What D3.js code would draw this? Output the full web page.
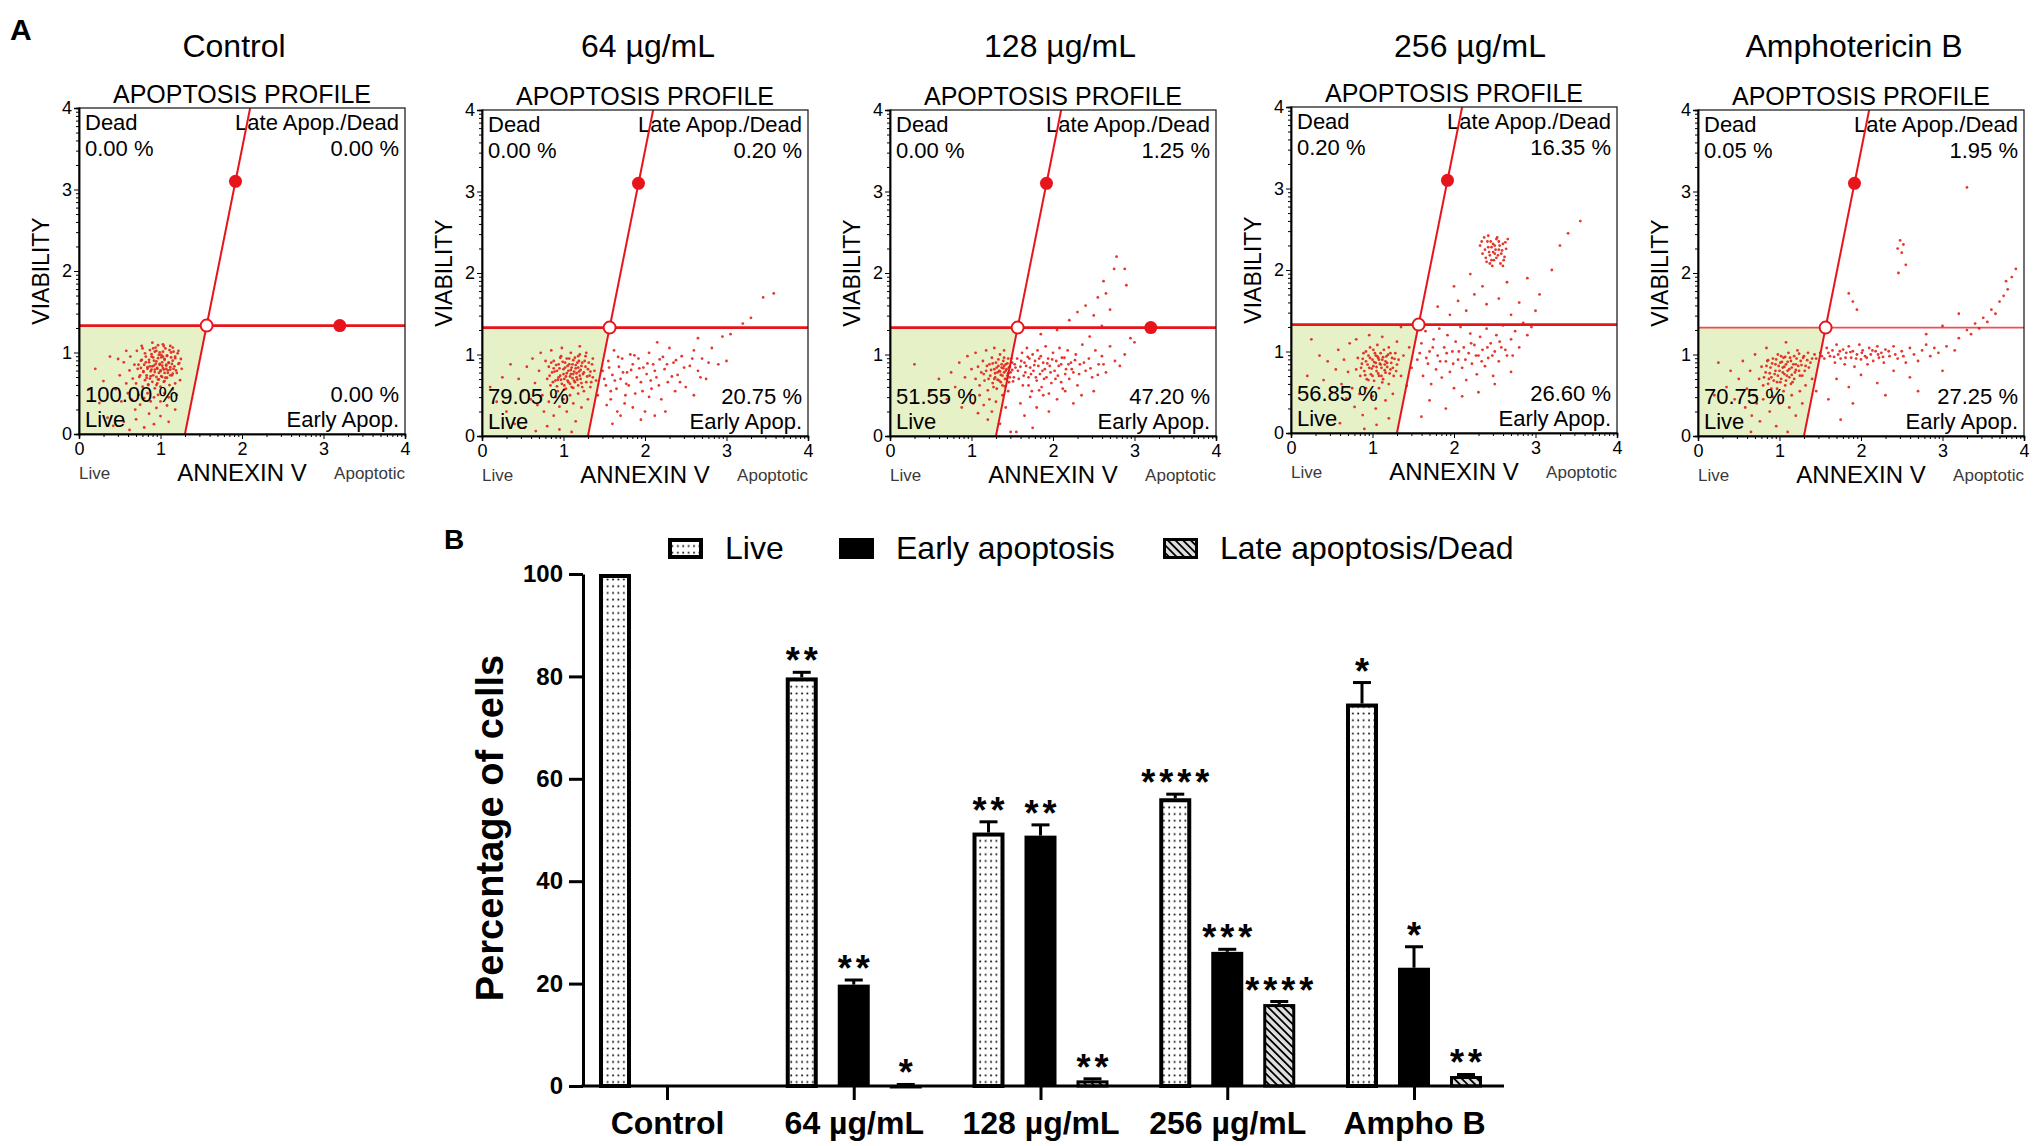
<!DOCTYPE html>
<html><head><meta charset="utf-8">
<script src="https://cdn.jsdelivr.net/npm/d3@7"></script>
<style>body{margin:0;background:#fff}svg{display:block}text{font-family:"Liberation Sans",Arial,sans-serif}</style>
</head><body><svg id="chart" width="2033" height="1146"></svg>
<script>
// ---------------- DATA ----------------
const panelTitles = ["Control", "64 µg/mL", "128 µg/mL", "256 µg/mL", "Amphotericin B"];
const deadPct  = ["0.00 %", "0.00 %", "0.00 %", "0.20 %", "0.05 %"];
const latePct  = ["0.00 %", "0.20 %", "1.25 %", "16.35 %", "1.95 %"];
const livePct  = ["100.00 %", "79.05 %", "51.55 %", "56.85 %", "70.75 %"];
const earlyPct = ["0.00 %", "20.75 %", "47.20 %", "26.60 %", "27.25 %"];
const showGateDot = [true, false, true, false, false];
const scatterTicks = [0, 1, 2, 3, 4];
const gateY = 1.33;
const gateLine = [[1.30, 0], [2.10, 4]];
const gateDotSlant = [1.92, 3.10];
const gateDotHoriz = [3.20, 1.33];

const pointsControl = [[0.70,0.62],[0.72,0.80],[0.74,0.70],[0.76,0.90],[0.78,0.58],[0.79,0.76],[0.80,0.85],[0.81,0.66],[0.82,0.95],[0.83,0.72],[0.84,0.80],[0.85,0.60],[0.86,0.88],[0.87,0.68],[0.88,0.77],[0.89,0.98],[0.90,0.83],[0.90,0.64],[0.91,0.72],[0.92,0.90],[0.93,0.56],[0.93,0.79],[0.94,0.86],[0.95,0.70],[0.95,1.02],[0.96,0.62],[0.96,0.80],[0.97,0.93],[0.98,0.75],[0.98,0.67],[0.99,0.85],[1.00,0.78],[1.00,0.58],[1.01,0.97],[1.02,0.70],[1.02,0.88],[1.03,0.81],[1.04,0.64],[1.05,0.92],[1.05,0.75],[1.06,1.05],[1.07,0.84],[1.08,0.69],[1.08,0.96],[1.09,0.78],[1.10,0.88],[1.11,0.60],[1.12,0.82],[1.13,1.00],[1.14,0.72],[1.15,0.90],[1.16,0.80],[1.18,0.95],[1.20,0.75],[1.22,0.86],
[0.45,0.55],[0.50,0.72],[0.52,0.40],[0.55,0.88],[0.58,0.62],[0.60,0.50],[0.62,0.78],[0.63,0.95],[0.65,0.42],[0.66,0.68],[0.68,0.85],[0.69,0.30],[0.71,1.02],[0.73,0.48],[0.75,0.36],[0.77,1.08],[0.80,0.44],[0.84,0.50],[0.86,0.25],[0.88,0.40],[0.90,1.12],[0.92,0.45],[0.95,0.32],[0.97,0.48],[1.00,0.40],[1.03,1.10],[1.05,0.50],[1.08,0.35],[1.10,0.45],[1.12,1.08],[1.15,0.55],[1.18,0.62],[1.20,0.48],[1.22,1.02],[1.24,0.66],[1.26,0.80],[1.25,0.92],
[0.12,0.55],[0.20,0.80],[0.25,0.38],[0.30,0.65],[0.35,0.20],[0.38,0.95],[0.42,0.10],[0.55,0.15],[0.62,0.05],[0.70,0.18],[0.80,0.08],[0.92,0.12],[1.00,0.22],[1.10,0.15],[1.18,0.30],[0.58,1.02],[0.48,0.92],
[0.73,0.85],[0.75,0.72],[0.77,0.91],[0.79,0.77],[0.81,0.99],[0.83,0.69],[0.84,0.82],[0.86,0.91],[0.87,1.03],[0.88,0.71],[0.89,0.79],[0.91,0.94],[0.92,0.84],[0.93,0.76],[0.94,1.06],[0.95,0.89],[0.96,0.81],[0.97,0.67],[0.98,0.97],[0.99,0.86],[1.00,0.77],[1.01,0.94],[1.02,0.84],[1.03,1.01],[1.04,0.79],[1.05,0.91],[1.06,0.69],[1.07,0.85],[1.08,0.96],[1.09,0.75],[1.10,0.87],[1.11,1.03],[1.12,0.79],[1.13,0.94],[1.14,0.86],[1.15,0.74],[1.16,1.01],[1.17,0.83],[1.18,0.93],[1.19,0.78],[1.21,0.99],[1.23,0.87],[0.91,1.05],[0.97,1.09],[1.04,1.08],[0.85,0.61],[0.95,0.60],[1.05,0.65],[0.78,1.05],[1.01,0.71],[0.89,0.95],[0.93,1.01],[1.07,0.80],[0.99,1.00],[0.87,0.83],[1.12,0.72],[0.82,0.88],[1.15,1.06],[0.76,0.81],[1.03,0.95]];

const points64 = [[0.80,0.70],[0.82,0.85],[0.84,0.62],[0.86,0.78],[0.88,0.92],[0.90,0.68],[0.92,0.80],[0.93,0.55],[0.94,0.88],[0.96,0.74],[0.97,0.98],[0.98,0.64],[1.00,0.82],[1.01,0.70],[1.02,0.90],[1.03,0.58],[1.04,0.77],[1.05,0.86],[1.06,0.66],[1.07,0.95],[1.08,0.73],[1.09,0.81],[1.10,0.60],[1.11,0.88],[1.12,0.76],[1.13,0.68],[1.14,0.96],[1.15,0.83],[1.16,0.72],[1.17,0.90],[1.18,0.62],[1.19,0.79],[1.20,1.00],[1.21,0.70],[1.22,0.86],[1.24,0.76],[1.26,0.92],[1.28,0.66],[1.30,0.82],[1.32,0.74],[1.35,0.88],[1.38,0.80],
[0.45,0.70],[0.50,0.55],[0.55,0.85],[0.60,0.45],[0.62,0.95],[0.65,0.65],[0.68,0.38],[0.70,0.80],[0.72,1.02],[0.74,0.50],[0.76,0.30],[0.78,0.92],[0.82,0.42],[0.85,1.05],[0.88,0.25],[0.90,0.48],[0.95,0.36],[0.98,1.08],[1.00,0.45],[1.04,0.30],[1.08,0.50],[1.12,0.40],[1.15,0.18],[1.18,0.52],[1.20,1.10],[1.22,0.35],[1.25,0.55],[1.28,1.02],[1.30,0.45],[1.33,0.60],[1.36,0.95],[1.40,0.68],[1.42,0.50],
[0.10,0.60],[0.18,0.42],[0.25,0.72],[0.30,0.30],[0.35,0.88],[0.40,0.15],[0.52,0.10],[0.66,0.06],[0.80,0.12],[0.95,0.08],[1.10,0.05],
[1.48,0.80],[1.52,0.62],[1.55,0.92],[1.58,0.45],[1.60,0.75],[1.62,1.05],[1.65,0.58],[1.68,0.85],[1.70,0.70],[1.72,0.95],[1.75,0.40],[1.78,0.78],[1.80,0.62],[1.82,1.00],[1.85,0.88],[1.88,0.52],[1.90,0.72],[1.92,0.95],[1.95,0.66],[1.98,0.84],[2.00,0.30],[2.02,0.76],[2.05,1.02],[2.08,0.58],[2.10,0.88],[2.14,0.72],[2.18,0.94],[2.20,0.45],[2.24,0.82],[2.28,0.66],[2.30,1.08],[2.35,0.90],[2.40,0.75],[2.45,0.98],[2.50,0.60],[2.55,0.86],[2.60,1.05],[2.65,0.80],[2.70,0.95],[2.75,0.70],[2.82,1.08],[2.90,0.88],[3.00,0.92],[1.70,0.25],[1.95,0.20],[2.25,0.30],[2.60,0.50],[1.60,0.15],[1.85,0.35],[2.15,1.15],[2.65,1.20],[2.95,1.22],[3.05,1.25],
[3.30,1.45],[3.45,1.70],[3.58,1.75],[3.20,1.38],
[0.83,0.74],[0.85,0.90],[0.87,0.66],[0.89,0.79],[0.91,0.87],[0.92,0.61],[0.94,0.72],[0.95,0.83],[0.97,0.69],[0.99,0.91],[1.00,0.76],[1.01,0.62],[1.02,0.84],[1.03,0.73],[1.04,0.95],[1.05,0.68],[1.06,0.80],[1.07,0.88],[1.08,0.64],[1.09,0.76],[1.10,0.84],[1.11,0.71],[1.12,0.93],[1.13,0.79],[1.14,0.66],[1.15,0.87],[1.16,0.77],[1.17,0.69],[1.18,0.84],[1.19,0.92],[1.20,0.74],[1.21,0.81],[1.22,0.65],[1.23,0.90],[1.25,0.78],[1.27,0.85],[1.29,0.73],[1.31,0.90],[1.33,0.79],[1.36,0.72],[0.96,0.96],[1.09,1.02],[1.18,0.98],[0.93,0.69],[1.01,0.57],[1.12,0.59],[1.23,0.60],[0.88,0.83],[1.27,0.98],[1.34,0.66],
[1.50,0.70],[1.56,0.84],[1.63,0.68],[1.67,0.97],[1.73,0.78],[1.77,0.64],[1.83,0.81],[1.87,0.99],[1.93,0.83],[1.97,0.55],[2.03,0.89],[2.07,0.68],[2.12,0.80],[2.17,0.62],[2.22,0.97],[2.27,0.88],[2.33,0.73],[2.38,0.93],[2.43,0.66],[2.48,0.84],[2.58,0.95],[2.68,0.72],[2.78,0.90],[1.58,0.55],[1.76,0.50],[2.05,0.48],[2.37,0.55],[1.53,0.38],[1.66,0.30],[2.12,0.25]];

const points128 = [[1.05,0.70],[1.08,0.85],[1.10,0.62],[1.12,0.78],[1.14,0.92],[1.16,0.68],[1.18,0.80],[1.20,0.56],[1.22,0.88],[1.23,0.74],[1.25,0.96],[1.26,0.65],[1.28,0.82],[1.29,0.72],[1.30,0.90],[1.31,0.58],[1.32,0.78],[1.33,0.86],[1.34,0.68],[1.35,1.00],[1.36,0.75],[1.37,0.84],[1.38,0.62],[1.39,0.92],[1.40,0.78],[1.41,0.70],[1.42,0.88],[1.43,0.82],[1.44,0.74],[1.45,0.95],[1.46,0.66],[1.47,0.85],[1.48,0.78],[1.50,0.90],[1.52,0.72],[1.54,0.84],
[0.30,0.88],[0.50,0.55],[0.60,0.70],[0.70,0.45],[0.75,0.78],[0.80,0.60],[0.85,0.90],[0.88,0.35],[0.92,0.72],[0.95,0.98],[0.98,0.52],[1.00,0.82],[1.02,0.40],[1.05,1.02],[1.08,0.28],[1.10,0.50],[1.15,0.38],[1.18,1.05],[1.20,0.20],[1.22,0.45],[1.25,0.30],[1.28,1.08],[1.30,0.42],[1.35,0.15],[1.38,0.50],[1.40,1.05],[1.42,0.35],[1.45,0.55],[1.48,0.05],
[1.56,0.95],[1.58,0.70],[1.60,0.85],[1.62,1.02],[1.63,0.62],[1.65,0.90],[1.66,0.78],[1.68,1.08],[1.70,0.72],[1.71,0.95],[1.72,0.84],[1.74,0.55],[1.75,1.00],[1.76,0.80],[1.78,0.92],[1.80,0.68],[1.81,1.05],[1.82,0.86],[1.84,0.76],[1.85,0.98],[1.86,0.60],[1.88,0.90],[1.90,0.82],[1.91,1.10],[1.92,0.72],[1.94,0.95],[1.96,0.86],[1.98,0.65],[2.00,1.02],[2.02,0.80],[2.04,0.92],[2.06,0.74],[2.08,1.08],[2.10,0.88],[2.12,0.58],[2.14,0.96],[2.16,0.82],[2.18,1.05],[2.20,0.70],[2.22,0.90],[2.25,0.78],[2.28,1.00],[2.30,0.62],[2.33,0.88],[2.36,1.12],[2.40,0.80],[2.44,0.95],[2.48,0.72],[2.52,1.05],[2.56,0.88],[2.60,0.98],[2.65,0.78],[2.70,1.10],[2.76,0.92],[2.82,0.86],[2.88,1.00],
[1.60,0.40],[1.65,0.25],[1.72,0.48],[1.80,0.35],[1.88,0.50],[1.95,0.30],[2.05,0.45],[2.15,0.55],[2.25,0.40],[2.35,0.50],[2.50,0.55],[1.75,0.10],[1.55,0.05],
[1.85,1.25],[2.05,1.30],[2.20,1.42],[2.30,1.52],[2.40,1.60],[2.50,1.48],[2.55,1.70],[2.60,1.35],[2.62,1.90],[2.65,1.75],[2.70,1.55],[2.75,2.05],[2.78,2.20],[2.88,2.05],[2.90,1.85],[2.95,1.20],[3.00,1.15],[2.45,1.22],
[1.15,0.76],[1.19,0.86],[1.21,0.70],[1.24,0.81],[1.26,0.89],[1.27,0.60],[1.29,0.77],[1.31,0.84],[1.32,0.69],[1.33,0.94],[1.34,0.80],[1.36,0.66],[1.37,0.88],[1.38,0.74],[1.39,0.83],[1.40,0.96],[1.41,0.61],[1.42,0.80],[1.43,0.70],[1.44,0.89],[1.45,0.77],[1.46,0.84],[1.47,0.72],[1.49,0.95],[1.50,0.81],[1.51,0.67],[1.53,0.88],[1.35,0.79],[1.28,0.70],[1.40,0.86],
[1.57,0.80],[1.61,0.92],[1.64,0.74],[1.67,0.86],[1.69,0.97],[1.73,0.76],[1.77,0.87],[1.79,0.72],[1.83,0.95],[1.87,0.80],[1.89,0.70],[1.93,0.89],[1.97,0.78],[1.99,0.94],[2.03,0.70],[2.07,0.86],[2.11,0.96],[2.15,0.76],[2.19,0.88],[2.23,0.82],[2.27,0.93],[2.32,0.76],[2.38,0.90],[2.46,0.83],[2.55,0.75],[2.62,0.88],[1.70,0.62],[1.83,0.56],[1.95,0.52],[2.10,0.66]];

const points256 = [[0.80,0.78],[0.82,0.92],[0.85,0.70],[0.87,0.85],[0.89,0.98],[0.90,0.76],[0.92,0.88],[0.93,0.66],[0.95,0.95],[0.96,0.80],[0.97,1.05],[0.98,0.72],[1.00,0.90],[1.01,0.82],[1.02,0.64],[1.03,0.98],[1.04,0.86],[1.05,0.76],[1.06,1.08],[1.07,0.92],[1.08,0.70],[1.09,0.85],[1.10,0.98],[1.11,0.80],[1.12,0.90],[1.13,0.66],[1.14,1.02],[1.15,0.84],[1.16,0.74],[1.17,0.94],[1.18,0.86],[1.20,1.05],[1.22,0.78],[1.24,0.92],[1.26,0.70],[1.28,0.98],[1.30,0.84],[1.32,0.90],
[0.40,0.65],[0.45,0.88],[0.50,0.50],[0.55,0.78],[0.58,1.02],[0.62,0.60],[0.65,0.90],[0.68,0.42],[0.70,0.75],[0.72,1.10],[0.75,0.55],[0.78,0.32],[0.80,1.15],[0.84,0.48],[0.88,0.22],[0.92,0.55],[0.96,1.20],[1.00,0.45],[1.04,0.30],[1.08,0.55],[1.12,1.18],[1.16,0.40],[1.20,0.60],[1.25,0.48],[1.30,1.12],[1.35,0.70],[1.38,0.95],[1.42,0.58],[1.45,1.05],[1.48,0.80],[0.20,0.70],[0.30,0.40],[0.35,0.95],[0.60,0.12],[0.90,0.05],[1.05,0.10],[1.20,0.18],[0.25,1.15],[1.35,1.30],
[1.55,0.90],[1.60,1.10],[1.62,0.70],[1.65,1.25],[1.68,0.85],[1.70,1.00],[1.72,0.60],[1.75,1.15],[1.78,0.78],[1.80,0.95],[1.82,1.28],[1.85,0.68],[1.88,1.05],[1.90,0.88],[1.92,1.20],[1.95,0.75],[1.98,1.00],[2.00,0.55],[2.02,1.12],[2.05,0.90],[2.08,1.30],[2.10,0.80],[2.12,1.05],[2.15,0.65],[2.18,0.98],[2.20,1.22],[2.22,0.85],[2.25,1.08],[2.28,0.72],[2.30,0.95],[2.32,1.18],[2.35,1.02],[2.38,0.82],[2.40,1.28],[2.42,0.92],[2.45,1.10],[2.48,0.70],[2.50,1.00],[2.52,1.20],[2.55,0.88],[2.58,1.05],[2.60,1.32],[2.65,0.95],[2.70,1.15],[2.75,1.25],[2.80,1.05],[2.85,1.35],[2.90,1.20],[2.95,1.30],[1.70,0.40],[1.90,0.30],[2.10,0.45],[2.30,0.50],[1.60,0.20],[2.50,0.60],[2.70,0.75],
[1.80,1.55],[1.95,1.45],[2.05,1.62],[2.15,1.50],[2.25,1.70],[2.35,1.80],[2.40,1.58],[2.55,1.65],[2.65,1.85],[2.70,1.45],[2.80,1.60],[2.90,1.90],[3.00,1.50],[3.05,1.70],[3.20,2.00],[3.40,2.45],[3.55,2.60],[3.30,2.30],[2.20,1.95],[2.00,1.80],
[2.32,2.30],[2.35,2.20],[2.37,2.40],[2.40,2.10],[2.42,2.28],[2.44,2.18],[2.45,2.35],[2.47,2.05],[2.48,2.22],[2.50,2.30],[2.52,2.15],[2.53,2.40],[2.55,2.25],[2.57,2.08],[2.58,2.20],[2.60,2.32],[2.62,2.16],[2.64,2.26],[2.38,2.25],[2.46,2.12],[2.50,2.20],[2.55,2.35],[2.42,2.42],[2.60,2.05],[2.66,2.38],
[0.86,0.80],[0.88,0.91],[0.91,0.71],[0.94,0.84],[0.97,0.92],[0.99,0.79],[1.00,0.70],[1.02,0.87],[1.04,0.95],[1.05,0.81],[1.07,0.73],[1.08,0.90],[1.10,0.84],[1.11,0.70],[1.13,0.93],[1.15,0.77],[1.16,0.88],[1.18,0.81],[1.19,0.96],[1.21,0.73],[1.23,0.86],[1.25,0.80],[1.27,0.91],[1.29,0.76],[0.92,1.00],[1.01,1.02],[1.12,0.62],[0.95,0.65],[1.06,0.94],[1.22,0.98],
[1.58,0.98],[1.66,0.92],[1.74,1.05],[1.83,0.88],[1.91,0.98],[1.99,0.85],[2.06,1.00],[2.14,0.90],[2.21,1.10],[2.27,0.95],[2.34,0.88],[2.41,1.05],[2.47,0.95],[2.56,1.12],[2.63,1.02],[2.72,0.95],
[2.34,2.35],[2.39,2.15],[2.41,2.35],[2.43,2.22],[2.46,2.28],[2.49,2.12],[2.51,2.25],[2.54,2.18],[2.56,2.30],[2.59,2.24],[2.61,2.12],[2.63,2.34],[2.44,2.08],[2.52,2.38],[2.48,2.32]];

const pointsAmpho = [[0.75,0.70],[0.78,0.85],[0.80,0.62],[0.83,0.78],[0.85,0.92],[0.87,0.70],[0.89,0.84],[0.90,0.58],[0.92,0.95],[0.94,0.76],[0.95,0.88],[0.97,0.66],[0.98,1.00],[1.00,0.80],[1.01,0.90],[1.02,0.70],[1.04,0.84],[1.05,0.96],[1.06,0.76],[1.07,0.62],[1.08,0.88],[1.10,0.80],[1.11,1.02],[1.12,0.72],[1.14,0.92],[1.15,0.84],[1.16,0.66],[1.18,0.98],[1.19,0.78],[1.20,0.88],[1.22,1.05],[1.24,0.80],[1.26,0.92],[1.28,0.74],[1.30,0.98],[1.32,0.86],[1.35,1.02],[1.38,0.90],
[0.35,0.60],[0.40,0.80],[0.45,0.45],[0.50,0.70],[0.55,0.92],[0.58,0.35],[0.60,0.58],[0.64,0.80],[0.66,0.25],[0.68,0.50],[0.70,1.00],[0.72,0.40],[0.76,0.18],[0.80,0.45],[0.84,1.08],[0.88,0.30],[0.92,0.48],[0.96,0.12],[1.00,0.40],[1.05,0.55],[1.08,1.15],[1.12,0.35],[1.15,0.50],[1.20,0.25],[1.25,0.55],[1.28,0.40],[1.32,0.62],[1.40,0.70],[1.45,0.95],[1.45,0.55],[0.20,0.50],[0.25,0.90],[0.65,0.05],[1.10,0.05],
[1.50,1.02],[1.55,0.95],[1.58,1.08],[1.62,0.98],[1.65,1.05],[1.68,0.90],[1.70,1.12],[1.72,1.00],[1.75,0.95],[1.78,1.06],[1.80,0.88],[1.82,1.02],[1.85,1.10],[1.88,0.96],[1.90,1.04],[1.92,0.85],[1.95,1.00],[1.98,1.12],[2.00,0.94],[2.02,1.05],[2.05,0.98],[2.08,0.88],[2.10,1.08],[2.12,1.00],[2.15,0.92],[2.18,1.04],[2.20,1.10],[2.22,0.96],[2.25,1.02],[2.28,0.90],[2.30,1.06],[2.35,0.98],[2.40,1.10],[2.45,0.95],[2.50,1.04],[2.55,0.90],[2.60,1.08],[2.65,1.00],[2.70,0.92],[2.75,1.05],[2.80,1.12],[2.85,0.98],[2.90,1.08],[2.95,1.02],[3.05,1.10],[3.15,1.05],[1.70,0.70],[1.85,0.60],[2.00,0.75],[2.20,0.65],[2.40,0.80],[2.60,0.72],[1.60,0.45],[1.90,0.40],[2.30,0.50],[2.70,0.55],[1.75,0.20],[3.00,0.80],
[3.20,1.20],[3.30,1.30],[3.35,1.25],[3.40,1.38],[3.45,1.32],[3.50,1.45],[3.55,1.40],[3.60,1.55],[3.65,1.50],[3.70,1.65],[3.75,1.72],[3.80,1.80],[3.78,1.90],[3.85,1.95],[3.90,2.05],
[1.85,1.75],[1.90,1.65],[2.45,2.30],[2.48,2.40],[2.50,2.25],[2.52,2.35],[2.46,2.00],[2.55,2.10],[3.20,1.50],[3.30,3.05],[1.95,1.55],[3.00,1.35],[2.80,1.25],
[0.81,0.72],[0.84,0.86],[0.86,0.64],[0.88,0.77],[0.91,0.89],[0.93,0.68],[0.95,0.80],[0.96,0.94],[0.98,0.74],[0.99,0.86],[1.01,0.66],[1.03,0.91],[1.04,0.78],[1.06,0.85],[1.07,0.97],[1.09,0.74],[1.10,0.91],[1.12,0.82],[1.13,0.96],[1.15,0.75],[1.17,0.88],[1.18,0.70],[1.20,0.81],[1.21,0.95],[1.23,0.86],[1.25,0.74],[1.27,0.87],[1.29,0.96],[1.31,0.80],[1.34,0.93],[1.36,0.84],[1.40,0.95],[1.43,1.00],[0.90,0.72],[1.02,0.98],[1.14,0.64],[0.97,0.58],[1.08,0.68],[0.86,0.93],[1.24,1.01],
[1.52,0.98],[1.60,1.02],[1.67,0.97],[1.74,1.04],[1.81,0.96],[1.87,1.03],[1.94,0.95],[2.01,1.02],[2.07,0.96],[2.14,1.05],[2.21,1.00],[2.27,0.97],[2.34,1.04],[2.42,1.00],[2.52,0.98]];

const panelPoints = [pointsControl, points64, points128, points256, pointsAmpho];

const barCategories = ["Control", "64 µg/mL", "128 µg/mL", "256 µg/mL", "Ampho B"];
const barSeries = ["Live", "Early apoptosis", "Late apoptosis/Dead"];
const liveValues  = [100, 79.8, 49.5, 56.2, 74.7];
const liveErrors  = [0, 1.0, 2.1, 0.8, 4.1];
const liveStars   = ["", "**", "**", "****", "*"];
const earlyValues = [0, 19.8, 48.9, 26.2, 23.1];
const earlyErrors = [0, 0.9, 2.1, 0.5, 4.1];
const earlyStars  = ["", "**", "**", "***", "*"];
const lateValues  = [0, 0.2, 1.1, 16.0, 1.95];
const lateErrors  = [0, 0.1, 0.3, 0.5, 0.3];
const lateStars   = ["", "*", "**", "****", "**"];
const yTicks = [0, 20, 40, 60, 80, 100];

// ---------------- LAYOUT ----------------
const RED = "#e8141c";
const svg = d3.select("#chart");
svg.append("rect").attr("width", 2033).attr("height", 1146).attr("fill", "#fff");
const defs = svg.append("defs");

const boxLeft = [79, 482, 890, 1291, 1698];
const boxTop = [108, 110, 110, 107, 110];
const titleX = [234, 648, 1060, 1470, 1854];
const S = 326;
const minorTicks = [];
for (let d = 0; d < 4; d++) for (let k = 2; k <= 9; k++) minorTicks.push(d + Math.log10(k));

svg.append("text").attr("x", 10).attr("y", 40).attr("font-size", 30).attr("font-weight", "bold").text("A");

panelTitles.forEach((title, i) => {
  const L = boxLeft[i], T = boxTop[i], R = L + S, B = T + S;
  const x = d3.scaleLinear().domain([0, 4]).range([L, R]);
  const y = d3.scaleLinear().domain([0, 4]).range([B, T]);
  const g = svg.append("g");
  defs.append("clipPath").attr("id", "clip" + i).append("rect").attr("x", L).attr("y", T).attr("width", S).attr("height", S);

  g.append("text").attr("x", titleX[i]).attr("y", 57).attr("text-anchor", "middle").attr("font-size", 32).text(title);
  g.append("text").attr("x", L + S / 2).attr("y", T - 5).attr("text-anchor", "middle").attr("font-size", 25).text("APOPTOSIS PROFILE");

  const xAt = yy => gateLine[0][0] + (gateLine[1][0] - gateLine[0][0]) * (yy - gateLine[0][1]) / (gateLine[1][1] - gateLine[0][1]);
  const poly = [[0, 0], [gateLine[0][0], 0], [xAt(gateY), gateY], [0, gateY]];
  g.append("path").attr("d", d3.line().x(d => x(d[0])).y(d => y(d[1]))(poly) + "Z").attr("fill", "#e7f1c8");

  g.append("g").attr("clip-path", `url(#clip${i})`).selectAll("circle").data(panelPoints[i]).join("circle")
    .attr("cx", d => x(d[0])).attr("cy", d => y(d[1])).attr("r", 1.4).attr("fill", "#e3261a").attr("fill-opacity", 0.92);

  const lab = (tx, ty, anchor, t) => g.append("text").attr("x", tx).attr("y", ty).attr("text-anchor", anchor).attr("font-size", 22).text(t);
  lab(L + 6, T + 22, "start", "Dead");
  lab(L + 6, T + 48, "start", deadPct[i]);
  lab(R - 6, T + 22, "end", "Late Apop./Dead");
  lab(R - 6, T + 48, "end", latePct[i]);
  lab(L + 6, B - 32, "start", livePct[i]);
  lab(L + 6, B - 7, "start", "Live");
  lab(R - 6, B - 32, "end", earlyPct[i]);
  lab(R - 6, B - 7, "end", "Early Apop.");

  const gl = g.append("g").attr("clip-path", `url(#clip${i})`);
  gl.append("line").attr("x1", x(0)).attr("x2", x(4)).attr("y1", y(gateY)).attr("y2", y(gateY))
    .attr("stroke", RED).attr("stroke-width", i === 4 ? 1.8 : 2.6).attr("stroke-opacity", i === 4 ? 0.75 : 1);
  gl.append("line").attr("x1", x(gateLine[0][0])).attr("y1", y(gateLine[0][1])).attr("x2", x(gateLine[1][0])).attr("y2", y(gateLine[1][1]))
    .attr("stroke", RED).attr("stroke-width", 2);
  g.append("circle").attr("cx", x(gateDotSlant[0])).attr("cy", y(gateDotSlant[1])).attr("r", 6.5).attr("fill", RED);
  if (showGateDot[i]) g.append("circle").attr("cx", x(gateDotHoriz[0])).attr("cy", y(gateDotHoriz[1])).attr("r", 6.5).attr("fill", RED);
  g.append("circle").attr("cx", x(xAt(gateY))).attr("cy", y(gateY)).attr("r", 6).attr("fill", "#fff").attr("stroke", RED).attr("stroke-width", 2);

  g.append("rect").attr("x", L).attr("y", T).attr("width", S).attr("height", S).attr("fill", "none").attr("stroke", "#222").attr("stroke-width", 1.3);

  const ax = g.append("g").attr("transform", `translate(0,${B})`).call(d3.axisBottom(x).tickValues(scatterTicks).tickSize(5).tickPadding(3).tickFormat(d3.format("d")));
  const axm = g.append("g").attr("transform", `translate(0,${B})`).call(d3.axisBottom(x).tickValues(minorTicks).tickSize(3).tickFormat(""));
  const ay = g.append("g").attr("transform", `translate(${L},0)`).call(d3.axisLeft(y).tickValues(scatterTicks).tickSize(5).tickPadding(2).tickFormat(d3.format("d")));
  const aym = g.append("g").attr("transform", `translate(${L},0)`).call(d3.axisLeft(y).tickValues(minorTicks).tickSize(3).tickFormat(""));
  [ax, axm, ay, aym].forEach(a => {
    a.select(".domain").attr("stroke", "#000").attr("stroke-width", 1.5);
    a.selectAll(".tick line").attr("stroke", "#000").attr("stroke-width", 1);
    a.selectAll("text").attr("font-size", 18).attr("fill", "#000").attr("font-family", "Liberation Sans, Arial, sans-serif");
  });

  g.append("text").attr("x", L).attr("y", B + 45).attr("font-size", 17).attr("fill", "#3a3a3a").text("Live");
  g.append("text").attr("x", R).attr("y", B + 45).attr("text-anchor", "end").attr("font-size", 17).attr("fill", "#3a3a3a").text("Apoptotic");
  g.append("text").attr("x", L + S / 2).attr("y", B + 47).attr("text-anchor", "middle").attr("font-size", 24).text("ANNEXIN V");
  g.append("text").attr("transform", `translate(${L - 36},${T + S / 2}) rotate(-90)`).attr("text-anchor", "middle")
    .attr("dominant-baseline", "middle").attr("font-size", 23).text("VIABILITY");
});

// ---------------- PANEL B ----------------
const dotPat = defs.append("pattern").attr("id", "dots").attr("patternUnits", "userSpaceOnUse").attr("width", 5.4).attr("height", 6.7);
dotPat.append("rect").attr("width", 5.4).attr("height", 6.7).attr("fill", "#fff");
dotPat.append("rect").attr("x", 2).attr("y", 2.5).attr("width", 1.7).attr("height", 1.7).attr("fill", "#000");
const hatch = defs.append("pattern").attr("id", "hatch").attr("patternUnits", "userSpaceOnUse").attr("width", 5.4).attr("height", 5.4).attr("patternTransform", "rotate(-45)");
hatch.append("rect").attr("width", 5.4).attr("height", 5.4).attr("fill", "#dedede");
hatch.append("rect").attr("x", 0).attr("y", 0).attr("width", 1.8).attr("height", 5.4).attr("fill", "#000");

const yB = d3.scaleLinear().domain([0, 100]).range([1086, 574]);
const xB = d3.scalePoint().domain(barCategories).range([667, 1414]);
const xInner = d3.scaleBand().domain(barSeries).range([-78, 78]).paddingInner(0.3846).paddingOuter(0.1923);
const bw = xInner.bandwidth();

svg.append("text").attr("x", 444).attr("y", 549).attr("font-size", 28).attr("font-weight", "bold").text("B");

const seriesData = [
  { name: barSeries[0], vals: liveValues, errs: liveErrors, stars: liveStars, fill: "url(#dots)", sw: 4 },
  { name: barSeries[1], vals: earlyValues, errs: earlyErrors, stars: earlyStars, fill: "#000", sw: 0 },
  { name: barSeries[2], vals: lateValues, errs: lateErrors, stars: lateStars, fill: "url(#hatch)", sw: 3 }
];

const gB = svg.append("g");
seriesData.forEach(s => {
  barCategories.forEach((c, j) => {
    const v = s.vals[j];
    if (v <= 0) return;
    const x0 = xB(c) + xInner(s.name);
    const top = yB(v), bot = yB(0);
    if (s.sw > 0) {
      const h = Math.max(bot - top - s.sw / 2, 0.5);
      gB.append("rect").attr("x", x0 + s.sw / 2).attr("y", top + s.sw / 2).attr("width", bw - s.sw).attr("height", h)
        .attr("fill", s.fill).attr("stroke", "#000").attr("stroke-width", s.sw);
    } else {
      gB.append("rect").attr("x", x0).attr("y", top).attr("width", bw).attr("height", bot - top).attr("fill", s.fill);
    }
    const cx = x0 + bw / 2;
    let eTop = top;
    if (s.errs[j] > 0) {
      eTop = yB(v + s.errs[j]);
      gB.append("line").attr("x1", cx).attr("x2", cx).attr("y1", top).attr("y2", eTop).attr("stroke", "#000").attr("stroke-width", 3);
      gB.append("line").attr("x1", cx - 9).attr("x2", cx + 9).attr("y1", eTop).attr("y2", eTop).attr("stroke", "#000").attr("stroke-width", 3);
    }
    if (s.stars[j]) {
      gB.append("text").attr("x", cx + 2).attr("y", eTop + 1).attr("text-anchor", "middle").attr("font-size", 36)
        .attr("font-weight", 600).attr("letter-spacing", 4).text(s.stars[j]);
    }
  });
});

const yAxisB = svg.append("g").attr("transform", "translate(583,0)")
  .call(d3.axisLeft(yB).tickValues(yTicks).tickSize(14).tickSizeOuter(0).tickPadding(6));
yAxisB.select(".domain").attr("stroke", "#000").attr("stroke-width", 3);
yAxisB.selectAll(".tick line").attr("stroke", "#000").attr("stroke-width", 3);
yAxisB.selectAll("text").attr("font-size", 24).attr("font-weight", "bold").attr("fill", "#000").attr("font-family", "Liberation Sans, Arial, sans-serif");

svg.append("line").attr("x1", 581.5).attr("x2", 1504).attr("y1", 1086).attr("y2", 1086).attr("stroke", "#000").attr("stroke-width", 3);
const xAxisB = svg.append("g").attr("transform", "translate(0,1086)")
  .call(d3.axisBottom(xB).tickSize(14).tickSizeOuter(0).tickPadding(11));
xAxisB.select(".domain").remove();
xAxisB.selectAll(".tick line").attr("stroke", "#000").attr("stroke-width", 3);
xAxisB.selectAll("text").attr("font-size", 32).attr("font-weight", "bold").attr("fill", "#000").attr("font-family", "Liberation Sans, Arial, sans-serif");

svg.append("text").attr("transform", "translate(503,828) rotate(-90)").attr("text-anchor", "middle")
  .attr("font-size", 38).attr("font-weight", "bold").text("Percentage of cells");

const legendX = [668, 839, 1163];
seriesData.forEach((s, k) => {
  const lx = legendX[k];
  if (s.sw > 0) {
    svg.append("rect").attr("x", lx + s.sw / 2).attr("y", 538 + s.sw / 2).attr("width", 35 - s.sw).attr("height", 21 - s.sw)
      .attr("fill", s.fill).attr("stroke", "#000").attr("stroke-width", s.sw);
  } else {
    svg.append("rect").attr("x", lx).attr("y", 538).attr("width", 35).attr("height", 21).attr("fill", s.fill);
  }
  svg.append("text").attr("x", lx + 57).attr("y", 559).attr("font-size", 32).text(s.name);
});
</script></body></html>
